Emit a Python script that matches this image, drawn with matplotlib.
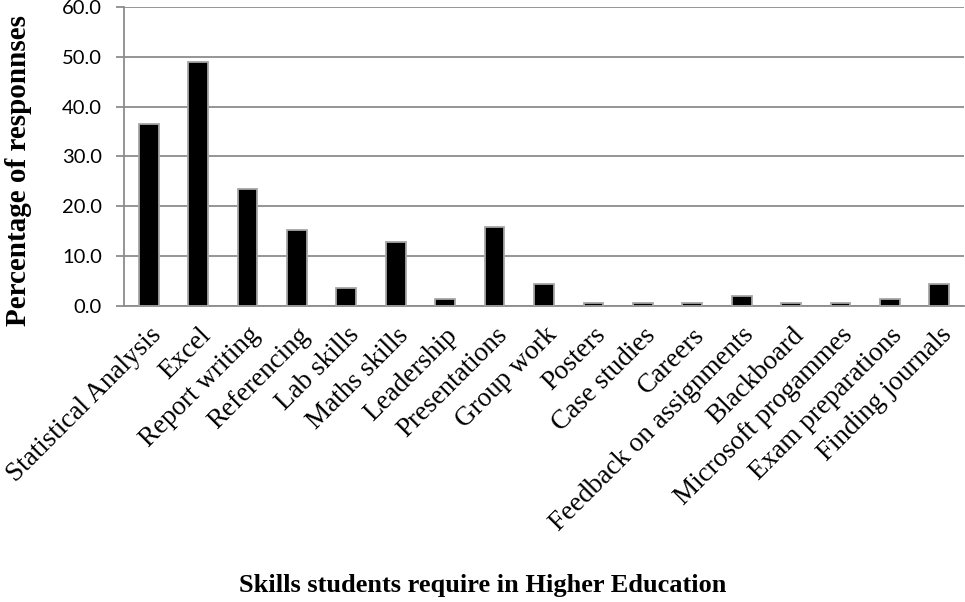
import matplotlib
matplotlib.use("Agg")
import matplotlib.pyplot as plt
import numpy as np

categories = ["Statistical Analysis", "Excel", "Report writing", "Referencing",
              "Lab skills", "Maths skills", "Leadership", "Presentations",
              "Group work", "Posters", "Case studies", "Careers",
              "Feedback on assignments", "Blackboard", "Microsoft progammes",
              "Exam preparations", "Finding journals"]
values = [36.5, 48.9, 23.5, 15.3, 3.6, 12.8, 1.4, 15.9, 4.5,
          0.7, 0.7, 0.7, 2.1, 0.7, 0.7, 1.4, 4.5]
yticks = [0, 10, 20, 30, 40, 50, 60]

serif = ["Liberation Serif", "DejaVu Serif"]
sans = ["Lato", "DejaVu Sans"]

fig = plt.figure(figsize=(9.65, 6.02), dpi=100)
ax = fig.add_axes([0.1285, 0.4917, 0.8705, 0.4967])

x = np.arange(len(categories))
ax.bar(x, values, width=0.4, color="black", edgecolor="#a6a6a6", linewidth=1.3, zorder=3)

ax.set_xlim(-0.5, len(categories) - 0.5)
ax.set_ylim(0, 60)
ax.set_yticks(yticks)
ax.set_yticklabels([f"{v:.1f}" for v in yticks], fontfamily=sans, fontsize=14.5)
ax.yaxis.grid(True, color="#8c8c8c", linewidth=1.3, zorder=0)
ax.tick_params(axis="y", length=6, width=1.3, color="#8c8c8c", pad=10)

ax.set_xticks(x)
ax.set_xticklabels(categories, rotation=45, ha="right", rotation_mode="anchor",
                   fontfamily=serif, fontsize=19.5)
ax.tick_params(axis="x", length=0, pad=12)

for s in ["top", "right"]:
    ax.spines[s].set_visible(False)
for s in ["left", "bottom"]:
    ax.spines[s].set_color("#8c8c8c")
    ax.spines[s].set_linewidth(1.3)

fig.text(0.5, 0.028, "Skills students require in Higher Education", ha="center",
         va="center", fontfamily=serif, fontweight="bold", fontsize=19)
fig.text(0.019, 0.716, "Percentage of responnses", ha="center", va="center",
         rotation=90, fontfamily=serif, fontweight="bold", fontsize=21)

fig.savefig("out.png", dpi=100)
